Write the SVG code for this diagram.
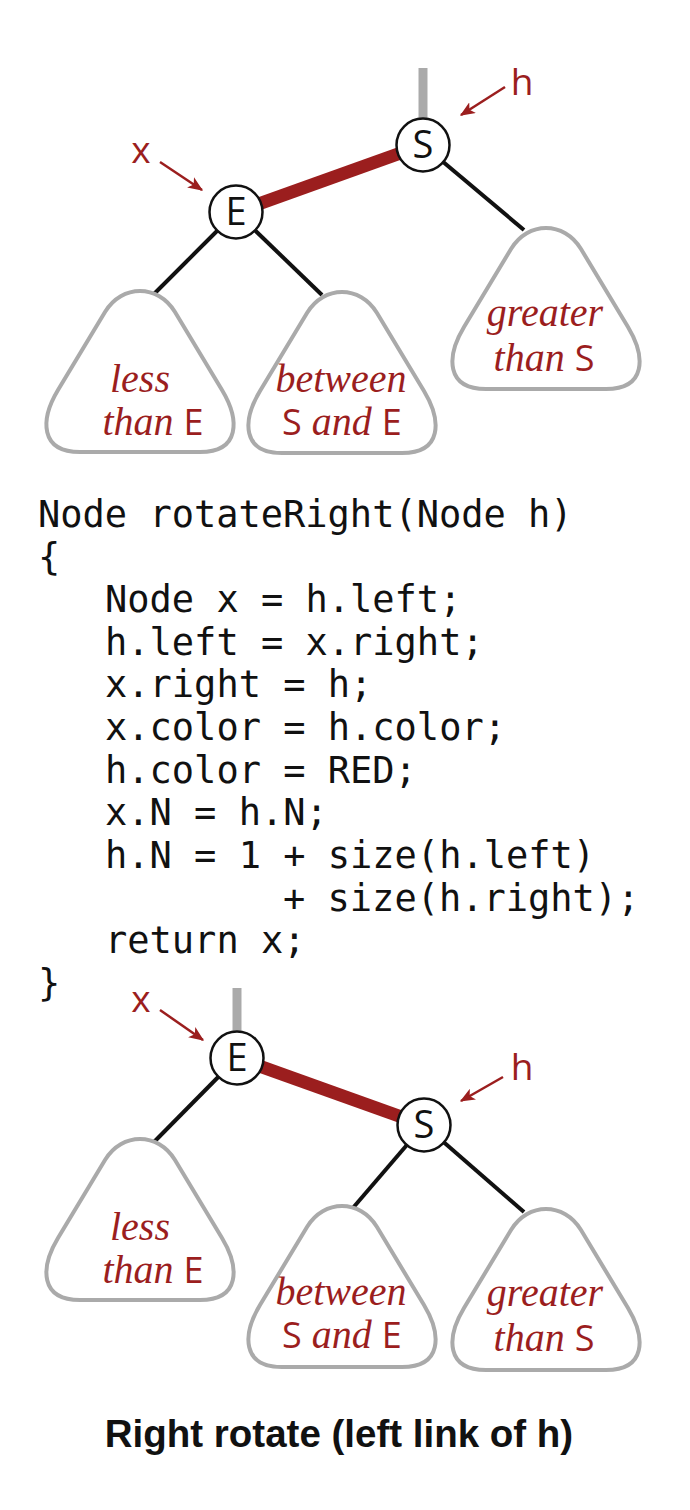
<svg xmlns="http://www.w3.org/2000/svg" xmlns:xlink="http://www.w3.org/1999/xlink" width="690" height="1510" viewBox="0 0 690 1510">
<style>
.stub{stroke:#aaaaaa;stroke-width:9;fill:none}
.red{stroke:#9b1e1e;stroke-width:13;fill:none}
.blk{stroke:#111;stroke-width:4;fill:none}
.node{fill:#fff;stroke:#111;stroke-width:2.5}
.key{font-family:"Open Sans","Liberation Sans",sans-serif;font-size:38px;fill:#111;text-anchor:middle}
.blob{fill:#fff;stroke:#aaaaaa;stroke-width:4}
.lab{font-family:"Liberation Serif",serif;font-style:italic;font-size:40px;fill:#9b1e1e;text-anchor:middle}
.up{font-family:"Open Sans","Liberation Sans",sans-serif;font-style:normal;font-size:36px}
.ptr{font-family:"Open Sans","Liberation Sans",sans-serif;font-size:37px;fill:#9b1e1e;text-anchor:middle}
.arr{stroke:#9b1e1e;stroke-width:2.5;fill:none;marker-end:url(#ah)}
.code{font-family:"DejaVu Sans Mono","Liberation Mono",monospace;font-size:37px;fill:#111}
.cap{font-family:"Liberation Sans",sans-serif;font-weight:bold;font-size:38.5px;fill:#111;text-anchor:middle}
</style>
<defs>
<marker id="ah" viewBox="0 0 12 10" refX="11" refY="5" markerWidth="6" markerHeight="5" orient="auto" markerUnits="strokeWidth">
<path d="M0,0 L12,5 L0,10 L3,5 Z" fill="#9b1e1e"/>
</marker>
<path id="blobshape" d="M -35,22 C -18,-6 18,-6 35,22 L 82,100 C 100,130 100,162 60,162 L -60,162 C -100,162 -100,130 -82,100 Z"/>
</defs>

<g id="connectors">
<line class="stub" x1="423" y1="68" x2="423" y2="120"/>
<line class="red" x1="236" y1="212" x2="423" y2="145"/>
<line class="blk" x1="236" y1="212" x2="154" y2="294"/>
<line class="blk" x1="236" y1="212" x2="322" y2="295"/>
<line class="blk" x1="423" y1="145" x2="524" y2="230"/>
<line class="arr" x1="505" y1="87" x2="461" y2="115"/>
<line class="arr" x1="160" y1="162" x2="202" y2="190"/>

<line class="stub" x1="237" y1="988" x2="237" y2="1032"/>
<line class="red" x1="237" y1="1058" x2="424" y2="1125"/>
<line class="blk" x1="237" y1="1058" x2="154" y2="1142"/>
<line class="blk" x1="424" y1="1125" x2="352" y2="1209"/>
<line class="blk" x1="424" y1="1125" x2="524" y2="1212"/>
<line class="arr" x1="160" y1="1010" x2="203" y2="1040"/>
<line class="arr" x1="503" y1="1077" x2="461" y2="1101"/>
</g>

<g id="top-tree">
<g id="t-S"><circle class="node" cx="423" cy="145" r="26.5"/><text class="key" x="423" y="158">S</text></g>
<g id="t-E"><circle class="node" cx="236" cy="212" r="26.5"/><text class="key" x="236" y="225">E</text></g>
<g id="t-h"><text class="ptr" x="522" y="95">h</text></g>
<g id="t-x"><text class="ptr" x="141" y="163">x</text></g>
<g id="t-less"><use xlink:href="#blobshape" href="#blobshape" class="blob" transform="translate(140,290)"/>
<text class="lab" x="140" y="392">less</text><text class="lab" x="153" y="435">than <tspan class="up">E</tspan></text></g>
<g id="t-between"><use xlink:href="#blobshape" href="#blobshape" class="blob" transform="translate(342,291)"/>
<text class="lab" x="341" y="392">between</text><text class="lab" x="342" y="435"><tspan class="up">S</tspan> and <tspan class="up">E</tspan></text></g>
<g id="t-greater"><use xlink:href="#blobshape" href="#blobshape" class="blob" transform="translate(546,227)"/>
<text class="lab" x="545" y="326">greater</text><text class="lab" x="544" y="371">than <tspan class="up">S</tspan></text></g>
</g>

<g id="code">
<text class="code" x="38" y="527">Node rotateRight(Node h)</text>
<text class="code" x="38" y="570">{</text>
<text class="code" x="105" y="612">Node x = h.left;</text>
<text class="code" x="105" y="655">h.left = x.right;</text>
<text class="code" x="105" y="697">x.right = h;</text>
<text class="code" x="105" y="740">x.color = h.color;</text>
<text class="code" x="105" y="783">h.color = RED;</text>
<text class="code" x="105" y="825">x.N = h.N;</text>
<text class="code" x="105" y="868">h.N = 1 + size(h.left)</text>
<text class="code" x="283" y="911">+ size(h.right);</text>
<text class="code" x="105" y="953">return x;</text>
<text class="code" x="38" y="996">}</text>
</g>

<g id="bottom-tree">
<g id="b-E"><circle class="node" cx="237" cy="1058" r="26.5"/><text class="key" x="237" y="1071">E</text></g>
<g id="b-S"><circle class="node" cx="424" cy="1125" r="26.5"/><text class="key" x="424" y="1138">S</text></g>
<g id="b-x"><text class="ptr" x="141" y="1012">x</text></g>
<g id="b-h"><text class="ptr" x="522" y="1080">h</text></g>
<g id="b-less"><use xlink:href="#blobshape" href="#blobshape" class="blob" transform="translate(140,1138)"/>
<text class="lab" x="140" y="1240">less</text><text class="lab" x="153" y="1283">than <tspan class="up">E</tspan></text></g>
<g id="b-between"><use xlink:href="#blobshape" href="#blobshape" class="blob" transform="translate(342,1205)"/>
<text class="lab" x="341" y="1305">between</text><text class="lab" x="342" y="1348"><tspan class="up">S</tspan> and <tspan class="up">E</tspan></text></g>
<g id="b-greater"><use xlink:href="#blobshape" href="#blobshape" class="blob" transform="translate(546,1208)"/>
<text class="lab" x="545" y="1306">greater</text><text class="lab" x="544" y="1351">than <tspan class="up">S</tspan></text></g>
</g>

<g id="caption"><text class="cap" x="339" y="1447">Right rotate (left link of h)</text></g>
</svg>
